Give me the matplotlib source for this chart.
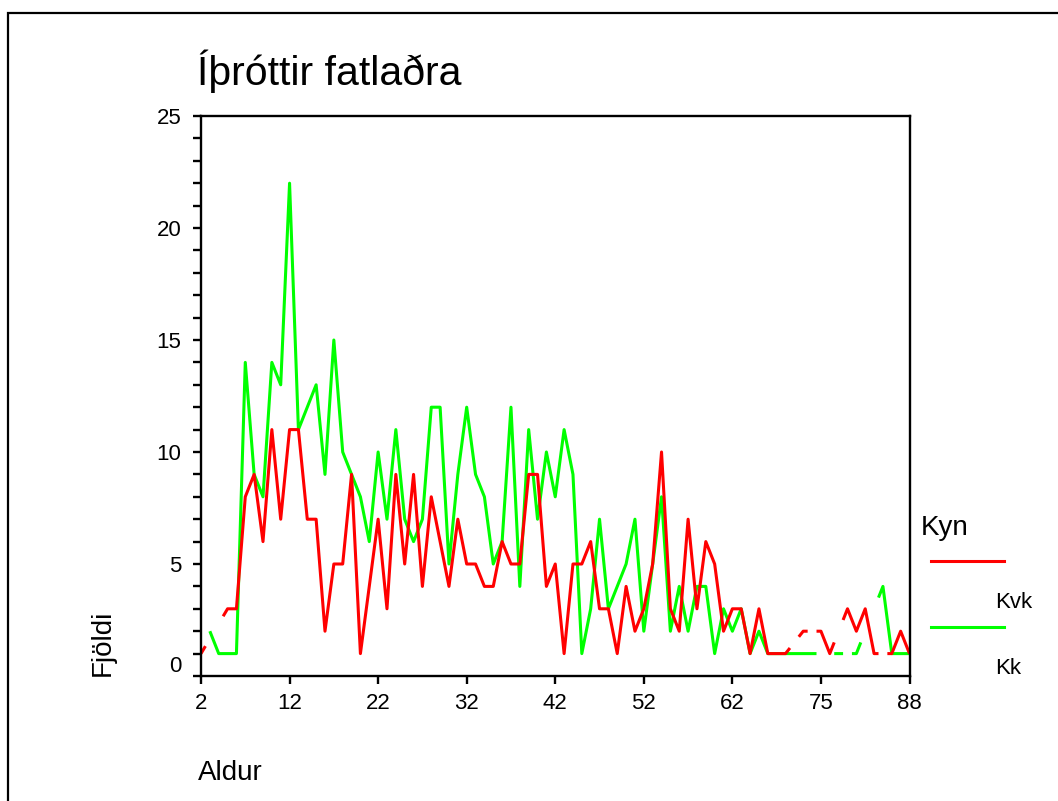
import numpy as np
import matplotlib.pyplot as plt
from matplotlib.lines import Line2D
from matplotlib.patches import Rectangle
from matplotlib.transforms import ScaledTranslation

plt.rcParams['font.family'] = ['Liberation Sans', 'DejaVu Sans']

nan = np.nan

# age categories present in the data (x axis is categorical)
ages = list(range(2, 63)) + [63, 64, 65, 66, 67, 68, 70, 71, 73, 75,
                             76, 77, 78, 79, 81, 82, 83, 85, 86, 88]

# counts per age, nan = no one of that sex at that age
kvk = [1, nan, nan, 3, 3, 8, 9, 6, 11, 7,
       11, 11, 7, 7, 2, 5, 5, 9, 1, 4,
       7, 3, 9, 5, 9, 4, 8, 6, 4, 7,
       5, 5, 4, 4, 6, 5, 5, 9, 9, 4,
       5, 1, 5, 5, 6, 3, 3, 1, 4, 2,
       3, 5, 10, 3, 2, 7, 3, 6, 5, 2,
       3, 3, 1, 3, 1, 1, 1, nan, 2, nan,
       2, 1, nan, 3, 2, 3, 1, nan, 1, 2,
       1]
kk = [nan, 2, 1, 1, 1, 14, 9, 8, 14, 13,
      22, 11, 12, 13, 9, 15, 10, 9, 8, 6,
      10, 7, 11, 7, 6, 7, 12, 12, 5, 9,
      12, 9, 8, 5, 6, 12, 4, 11, 7, 10,
      8, 11, 9, 1, 3, 7, 3, 4, 5, 7,
      2, 5, 8, 2, 4, 2, 4, 4, 1, 3,
      2, 3, 1, 2, 1, 1, 1, 1, 1, 1,
      nan, nan, 1, nan, 1, nan, nan, 4, 1, 1,
      1]

series_names = ['Kvk', 'Kk']
series_values = [kvk, kk]
series_colors = ['#ff0000', '#00ff00']

title = 'Íþróttir fatlaðra'
x_label = 'Aldur'
y_label = 'Fjöldi'
legend_title = 'Kyn'


def gapped_path(x, y):
    """Line through the valid points; across missing categories only the
    half-category next to each valid point is drawn."""
    x = np.asarray(x, float)
    y = np.asarray(y, float)
    ok = ~np.isnan(y)
    vx, vy = x[ok], y[ok]
    px, py = [vx[0]], [vy[0]]
    for x0, y0, x1, y1 in zip(vx[:-1], vy[:-1], vx[1:], vy[1:]):
        if x1 - x0 > 1:
            f = 0.5 / (x1 - x0)
            px += [x0 + 0.5, nan, x1 - 0.5]
            py += [y0 + f * (y1 - y0), nan, y1 - f * (y1 - y0)]
        px.append(x1)
        py.append(y1)
    return px, py


W, H = 1058, 801
fig = plt.figure(figsize=(W / 100, H / 100), dpi=100)
ax = fig.add_axes([201 / W, 1 - 676 / H, 708.5 / W, 560 / H])

pos = np.arange(len(ages))
# green underneath, red on top
for i in [1, 0]:
    px, py = gapped_path(pos, series_values[i])
    ax.plot(px, py, color=series_colors[i], lw=2.2, solid_capstyle='butt')

ax.set_xlim(0, len(ages) - 1)
ax.set_ylim(0, 25)

xt = pos[::10]
ax.set_xticks(xt)
ax.set_xticklabels([str(ages[k]) for k in xt])
ax.set_yticks(np.arange(0, 26, 5))
ax.set_yticks(np.arange(0, 26, 1), minor=True)

ax.tick_params(axis='both', which='both', direction='out', width=1.7,
               length=6, labelsize=16, color='black')
ax.tick_params(axis='x', pad=6)
ax.tick_params(axis='y', pad=8)
for sp in ax.spines.values():
    sp.set_linewidth(1.7)

# the "0" label sits a little above its tick in the original
t0 = ax.yaxis.get_major_ticks()[0]
t0.label1.set_transform(t0.label1.get_transform() +
                        ScaledTranslation(0, 12 / 100, fig.dpi_scale_trans))

# outer frame (only the left and top edges fall inside the picture)
fig.add_artist(Rectangle((8 / W, -0.1), 1.2, 1.1 - 13 / H, fill=False,
                         lw=1.6, ec='black', transform=fig.transFigure))

fig.text(197 / W, 1 - 85 / H, title, fontsize=29.5, va='baseline')
fig.text(103 / W, 1 - 643 / H, y_label, fontsize=20, rotation=90,
         ha='center', va='center')
fig.text(198 / W, 1 - 780 / H, x_label, fontsize=20, va='baseline')

# legend
fig.text(921 / W, 1 - 535 / H, legend_title, fontsize=20, va='baseline')
for k, name in enumerate(series_names):
    ly = 561 + k * 66
    fig.add_artist(Line2D([931 / W, 1004 / W], [1 - ly / H, 1 - ly / H],
                          color=series_colors[k], lw=2.2,
                          transform=fig.transFigure))
    fig.text(995 / W, 1 - (ly + 47) / H, name, fontsize=16, va='baseline')

fig.savefig('out.png', dpi=100)
